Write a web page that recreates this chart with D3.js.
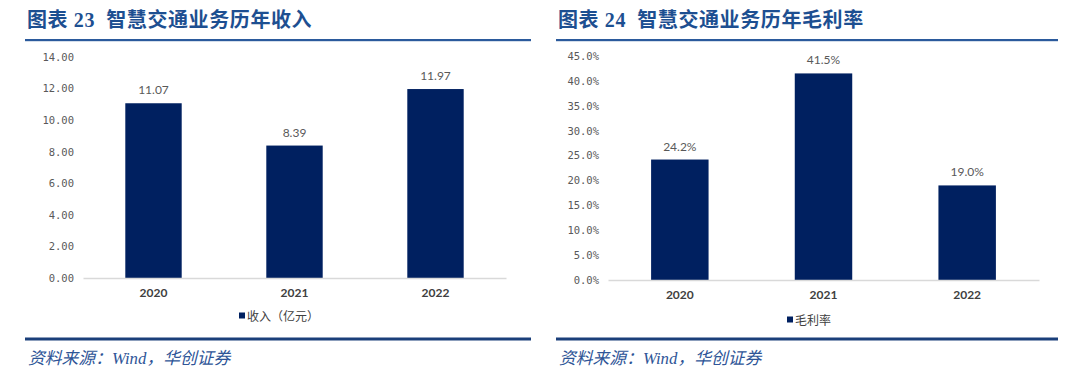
<!DOCTYPE html>
<html><head><meta charset="utf-8">
<script src="https://cdn.jsdelivr.net/npm/d3@7"></script>
<style>
html,body{margin:0;padding:0;background:#fff;}
svg{display:block;}
</style></head>
<body>
<svg id="c" width="1080" height="379"></svg>
<script>
const categories = ["2020","2021","2022"];
const revenue = [11.07, 8.39, 11.97];
const grossMargin = [24.2, 41.5, 19.0];
const revenueTicks = [0,2,4,6,8,10,12,14];
const marginTicks = [0,5,10,15,20,25,30,35,40,45];
const titles = ["图表 23  智慧交通业务历年收入","图表 24  智慧交通业务历年毛利率"];
const legends = ["收入（亿元）","毛利率"];
const sourceText = "资料来源：Wind，华创证券";

const svg = d3.select("#c");
const navy = "#002060";
const titleBlue = "#1d4f91";

function panel(cfg){
  const g = svg.append("g");
  g.append("text").attr("x", cfg.x0+2).attr("y", 27)
    .attr("font-family","'Liberation Serif','Noto Sans CJK SC',serif")
    .attr("font-weight","bold").attr("font-size",20).attr("fill",titleBlue)
    .attr("letter-spacing",0.6).style("white-space","pre").text(cfg.title);
  g.append("rect").attr("x",cfg.x0).attr("y",39).attr("width",cfg.x1-cfg.x0).attr("height",2.2).attr("fill","#2b5a9c");
  g.append("rect").attr("x",cfg.x0).attr("y",337.5).attr("width",cfg.x1-cfg.x0).attr("height",3).attr("fill","#1a3f7a");
  g.append("text").attr("x", cfg.x0+3).attr("y", 364)
    .attr("font-family","'Liberation Serif','Noto Sans CJK SC',serif")
    .attr("font-style","italic").attr("font-size",16.8).attr("fill","#2e5597")
    .text(sourceText);

  const x = d3.scaleBand().domain(categories).range([cfg.ax0, cfg.ax1]).padding(0);
  const y = d3.scaleLinear().domain([0, cfg.max]).range([cfg.base, cfg.top]);
  const bw = x.bandwidth()*0.4;

  const ya = d3.axisLeft(y).tickValues(cfg.ticks).tickSize(0).tickPadding(0).tickFormat(cfg.tickFmt);
  const yg = g.append("g").attr("transform",`translate(${cfg.labelX},0)`).call(ya);
  yg.select(".domain").remove();
  yg.selectAll("text").attr("font-family","'DejaVu Sans Mono',monospace").attr("font-size",10.5).attr("fill","#595959");

  g.selectAll("rect.bar").data(cfg.values).join("rect").attr("class","bar")
    .attr("x",(d,i)=>x(categories[i])+x.bandwidth()/2-bw/2)
    .attr("y",d=>y(d)).attr("width",bw).attr("height",d=>cfg.base-y(d)).attr("fill",navy);

  const xa = d3.axisBottom(x).tickSize(0).tickPadding(10);
  const xg = g.append("g").attr("transform",`translate(0,${cfg.base})`).call(xa);
  xg.select(".domain").attr("stroke","#d9d9d9").attr("stroke-width",1.3);
  xg.selectAll("text").attr("font-family","Lato,'Liberation Sans',sans-serif").attr("font-weight","bold").attr("font-size",12).attr("fill","#404040");

  g.selectAll("text.lbl").data(cfg.values).join("text").attr("class","lbl")
    .attr("x",(d,i)=>x(categories[i])+x.bandwidth()/2).attr("y",d=>y(d)-9)
    .attr("text-anchor","middle").attr("font-family","Lato,'Liberation Sans',sans-serif")
    .attr("font-size",12).attr("fill","#595959").text(cfg.labelFmt);

  g.append("rect").attr("x",cfg.legX).attr("y",cfg.legY-3.5).attr("width",6).attr("height",6).attr("fill",navy);
  g.append("text").attr("x",cfg.legX+8).attr("y",cfg.legY+4.5).attr("font-family","'Noto Sans CJK SC',sans-serif")
    .attr("font-size",12).attr("fill","#404040").text(cfg.legend);
}

panel({x0:25,x1:531,title:titles[0],values:revenue,max:14,ticks:revenueTicks,
  tickFmt:d=>d.toFixed(2),labelFmt:d=>d.toFixed(2),ax0:83,ax1:506,base:278,top:57,labelX:74,
  legX:239,legY:316,legend:legends[0]});
panel({x0:556,x1:1058,title:titles[1],values:grossMargin,max:45,ticks:marginTicks,
  tickFmt:d=>d.toFixed(1)+"%",labelFmt:d=>d.toFixed(1)+"%",ax0:608,ax1:1039,base:280,top:56,labelX:599,
  legX:787,legY:320,legend:legends[1]});
</script>
</body></html>
